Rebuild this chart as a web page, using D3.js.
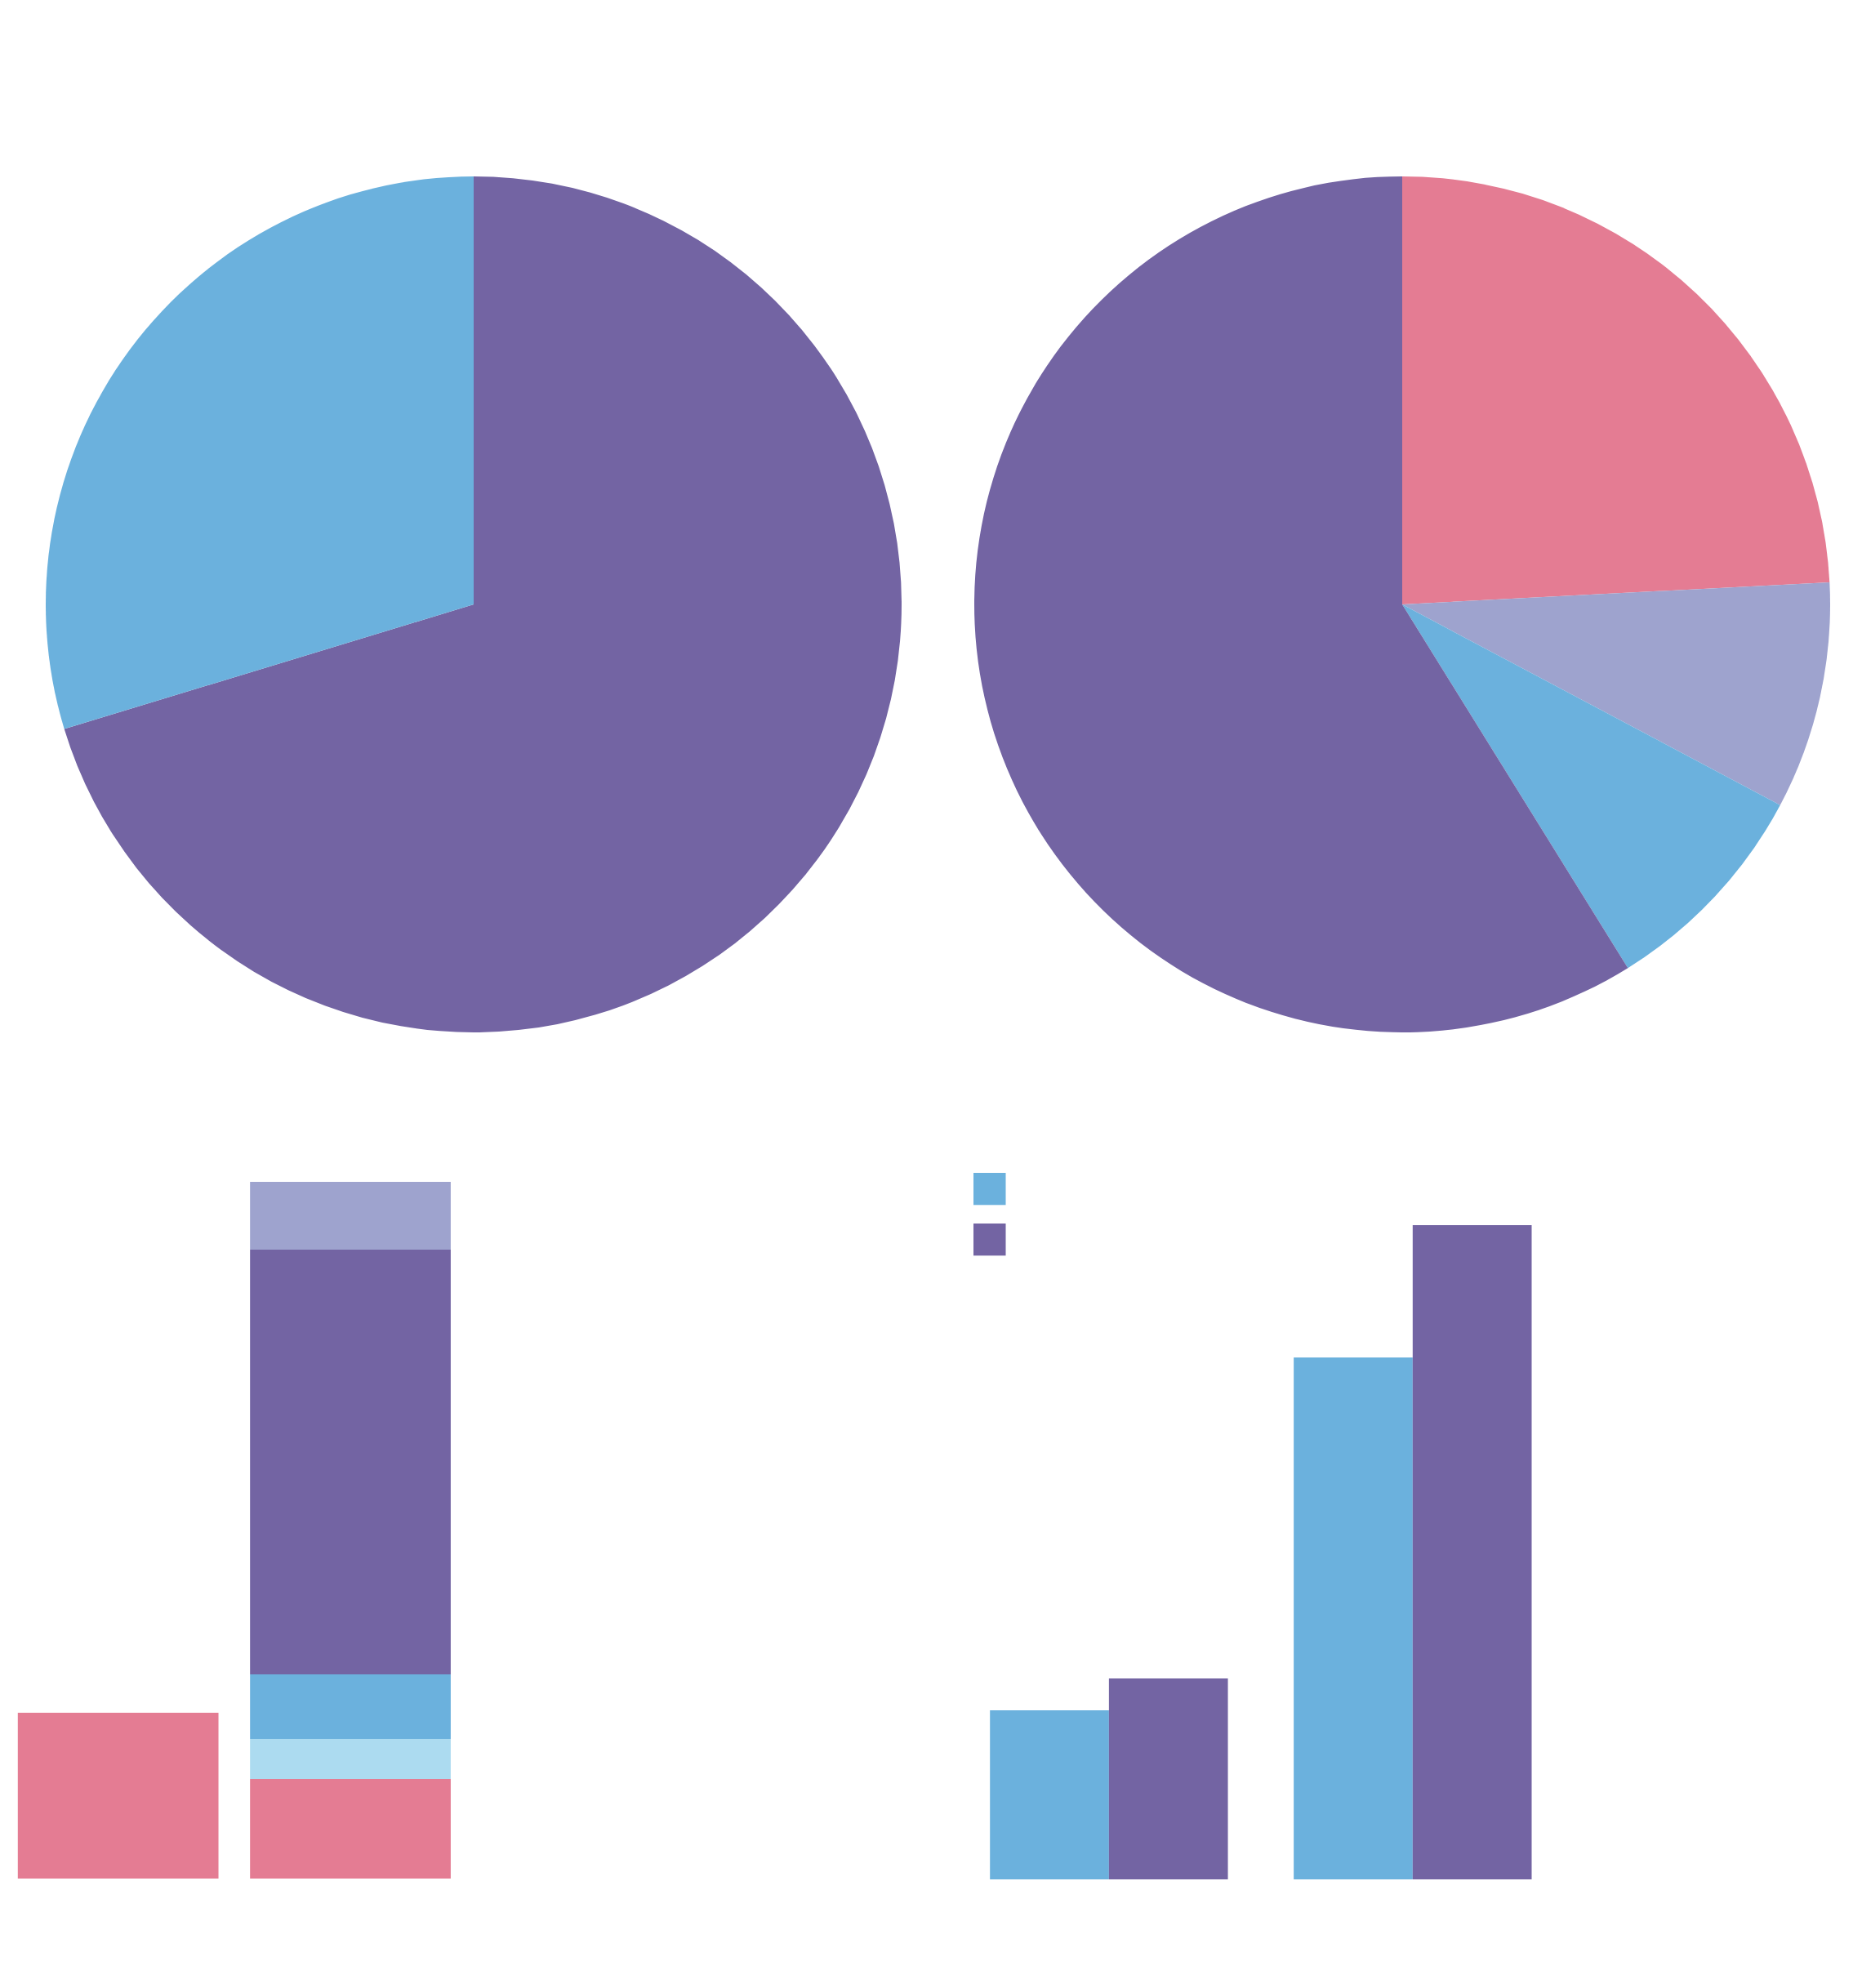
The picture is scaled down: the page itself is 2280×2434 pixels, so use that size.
<!DOCTYPE html>
<html>
<head>
<meta charset="utf-8">
<script src="https://cdn.jsdelivr.net/npm/d3@7"></script>
<style>
  html, body { margin: 0; padding: 0; background: #ffffff; }
  svg { display: block; }
</style>
</head>
<body>
<svg id="chart" width="2280" height="2434"></svg>
<script>
// ---- Data ----
const pie1Labels = ["Purple", "Blue"];
const pie1Values = [70.3, 29.7];
const pie1Colors = ["#7364a3", "#6bb1dd"];

const pie2Labels = ["Pink", "Lavender", "Blue", "Purple"];
const pie2Values = [24.2, 8.6, 8.4, 58.9];
const pie2Colors = ["#e47c93", "#9ea3ce", "#6bb1dd", "#7364a3"];

const stackCategories = ["A", "B"];
const stackSeries = ["Pink", "LightBlue", "Blue", "Purple", "Lavender"];
const stackColors = ["#e47c93", "#acdbf0", "#6bb1dd", "#7364a3", "#9ea3ce"];
const stackPink      = [20.3, 12.2];
const stackLightBlue = [0, 4.9];
const stackBlue      = [0, 7.9];
const stackPurple    = [0, 52.0];
const stackLavender  = [0, 8.3];

const groupCategories = ["G1", "G2"];
const groupSeries = ["Blue", "Purple"];
const groupColors = ["#6bb1dd", "#7364a3"];
const groupBlue   = [20.7, 63.9];
const groupPurple = [24.6, 80.1];

// ---- Drawing ----
const svg = d3.select("#chart");

function drawPie(cx, cy, r, values, colors) {
  const pie = d3.pie().sort(null).value(d => d);
  const arc = d3.arc().innerRadius(0).outerRadius(r);
  const g = svg.append("g").attr("transform", `translate(${cx},${cy})`);
  g.selectAll("path").data(pie(values)).join("path")
    .attr("d", arc)
    .attr("fill", (d, i) => colors[i]);
}
drawPie(580, 740, 524, pie1Values, pie1Colors);
drawPie(1717, 740, 524, pie2Values, pie2Colors);

// Stacked bars (bottom-left)
const yStack = d3.scaleLinear().domain([0, 100]).range([2300, 1300]);
const xStack = d3.scaleBand().domain(stackCategories).range([21.8, 551.9])
  .paddingInner(0.136).paddingOuter(0);
const stackRows = stackCategories.map((c, i) => ({
  cat: c,
  Pink: stackPink[i], LightBlue: stackLightBlue[i], Blue: stackBlue[i],
  Purple: stackPurple[i], Lavender: stackLavender[i]
}));
const stacked = d3.stack().keys(stackSeries)(stackRows);
const gs = svg.append("g");
stacked.forEach((layer, li) => {
  gs.append("g").attr("fill", stackColors[li])
    .selectAll("rect").data(layer.filter(d => d[1] - d[0] > 0)).join("rect")
    .attr("x", d => xStack(d.data.cat))
    .attr("width", xStack.bandwidth())
    .attr("y", d => yStack(d[1]))
    .attr("height", d => yStack(d[0]) - yStack(d[1]));
});

// Grouped bars (bottom-right)
const yGroup = d3.scaleLinear().domain([0, 100]).range([2301, 1301]);
const x0 = d3.scaleBand().domain(groupCategories).range([1212.2, 1875.5])
  .paddingInner(0.2167).paddingOuter(0);
const x1 = d3.scaleBand().domain(groupSeries).range([0, x0.bandwidth()]).padding(0);
const groupVals = { Blue: groupBlue, Purple: groupPurple };
const gg = svg.append("g");
groupCategories.forEach((c, ci) => {
  gg.append("g").attr("transform", `translate(${x0(c)},0)`)
    .selectAll("rect").data(groupSeries.map((s, si) => ({ s, si, v: groupVals[s][ci] })))
    .join("rect")
    .attr("x", d => x1(d.s))
    .attr("width", x1.bandwidth())
    .attr("y", d => yGroup(d.v))
    .attr("height", d => yGroup(0) - yGroup(d.v))
    .attr("fill", d => groupColors[d.si]);
});

// Legend swatches (no text in reference)
const legend = svg.append("g").attr("transform", "translate(1192,1436)");
legend.selectAll("rect").data(groupSeries).join("rect")
  .attr("x", 0)
  .attr("y", (d, i) => i * 62)
  .attr("width", 39.5)
  .attr("height", 39.3)
  .attr("fill", (d, i) => groupColors[i]);
</script>
</body>
</html>
